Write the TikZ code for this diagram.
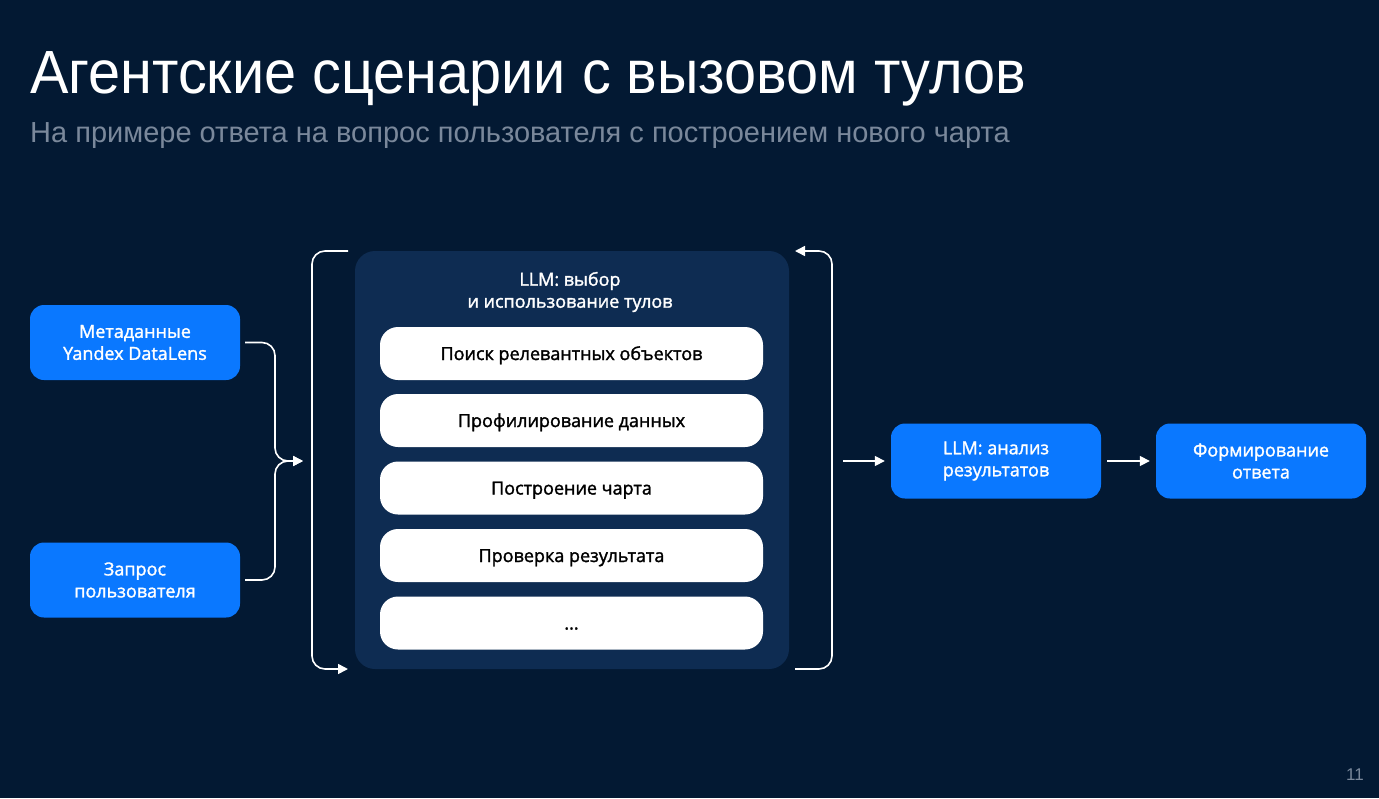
\documentclass[tikz,border=0pt]{standalone}
\usepackage{fontspec}
\setmainfont{Open Sans}
\newfontfamily\titlefont[FakeStretch=0.945]{Liberation Sans}
\newfontfamily\subfont{Liberation Sans}
\newfontfamily\boxfont[FakeBold=1.6]{Open Sans}
\usepackage{xcolor}
\definecolor{Navy}{RGB}{3,25,51}
\definecolor{Panel}{RGB}{14,44,82}
\definecolor{Azure}{RGB}{10,120,255}
\definecolor{Grey}{RGB}{122,136,155}
\definecolor{White}{RGB}{255,255,255}
\definecolor{Black}{RGB}{0,0,0}
\usetikzlibrary{arrows.meta}

\tikzset{
	bluebox/.style={fill=Azure, rounded corners=14pt, minimum width=210pt, minimum height=75pt, align=center, text=White, font=\boxfont\fontsize{18}{22}\selectfont},
	toolbox/.style={fill=White, rounded corners=18pt, minimum width=383pt, minimum height=53pt, text height=13pt, text depth=0pt, align=center, text=Black, font=\boxfont\fontsize{18}{22}\selectfont},
	link/.style={draw=White, line width=1.6pt, rounded corners=13pt, -{Triangle[length=10pt,width=10pt]}},
}

\begin{document}
\begin{tikzpicture}[x=1pt, y=-1pt]
		
		% Background
		\fill[Navy] (0,0) rectangle (1379,798);
		\useasboundingbox (0,0) rectangle (1379,798);
		
		% Titles
		\node[anchor=base west, inner sep=0, text=White, font=\titlefont\fontsize{61}{61}\selectfont] (title) at (30,93) {Агентские сценарии с вызовом тулов};
		\node[anchor=base west, inner sep=0, text=Grey, font=\subfont\fontsize{29}{29}\selectfont] (subtitle) at (30,142) {На примере ответа на вопрос пользователя с построением нового чарта};
		
		% Inputs
		\node[bluebox] (meta) at (135,342.5) {Метаданные\\Yandex DataLens};
		\node[bluebox] (query) at (135,580) {Запрос\\пользователя};
		
		% Panel
		\node[fill=Panel, rounded corners=20pt, minimum width=434pt, minimum height=418pt] (panel) at (572,460) {};
		\node[align=center, text=White, font=\boxfont\fontsize{18}{22}\selectfont] (paneltitle) at (570,292) {LLM: выбор\\и использование тулов};
		
		% Tools
		\node[toolbox] (search) at (571.5,353.5) {Поиск релевантных объектов};
		\node[toolbox] (profile) at (571.5,420.5) {Профилирование данных};
		\node[toolbox] (chart) at (571.5,488) {Построение чарта};
		\node[toolbox] (check) at (571.5,555.5) {Проверка результата};
		\node[toolbox] (more) at (571.5,623) {...};
		
		% Outputs
		\node[bluebox] (analysis) at (996,461) {LLM: анализ\\результатов};
		\node[bluebox] (answer) at (1261,461) {Формирование\\ответа};
		
		% Loop points
		\coordinate (join) at (303,461);
		\coordinate (ltop) at (348,251);
		\coordinate (lbot) at (348,669);
		\coordinate (rbot) at (795,669);
		\coordinate (rtop) at (795,251);
		\coordinate (panelout) at (843,461);
		
		% Connectors
		\draw[link, shorten <=5pt] (meta.east) -- (275,342.5) -- (275,461) -- (join);
		\draw[link, shorten <=5pt] (query.east) -- (275,580) -- (275,461) -- (join);
		\draw[link] (ltop) -- (312,251) -- (312,669) -- (lbot);
		\draw[link] (rbot) -- (832,669) -- (832,251) -- (rtop);
		\draw[link, shorten >=6pt] (panelout) -- (analysis.west);
		\draw[link, shorten <=6pt, shorten >=6pt] (analysis.east) -- (answer.west);
		
		% Page number
		\node[text=Grey, font=\subfont\fontsize{17}{17}\selectfont] (page) at (1355,775) {11};
		
	\end{tikzpicture}
\end{document}
